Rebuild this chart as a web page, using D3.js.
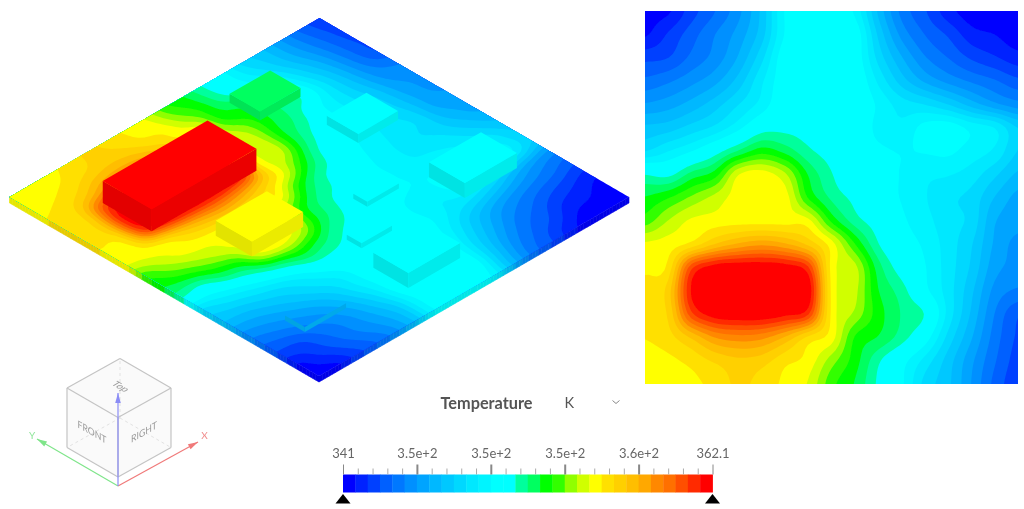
<!DOCTYPE html>
<html><head><meta charset="utf-8">
<script src="https://cdn.jsdelivr.net/npm/d3@7"></script>
<style>html,body{margin:0;padding:0;background:#fff}svg{display:block}text{font-family:Lato,sans-serif}</style>
</head><body><svg id="c" width="1024" height="509"></svg>
<script>
// ---------- data ----------
const tempRows = [
[341.5,341.6,342.8,343.8,345,346.8,349.5,350,350,349.3,346.5,344.3,343.2,342,341.3,341,341],
[341.6,342.5,343.5,344.5,345.5,347,349.5,350.2,350.2,350,347.2,345,343.8,343,342,341.7,341.2],
[342.9,343.1,344,344.8,346,347.8,350,350.4,350.4,350,347.8,346,344.6,343.8,343,342.5,342],
[344,344.4,345,345.7,346.9,348.6,350,350.4,350.4,350.2,348.6,347,345.8,345,344.4,343.9,343.3],
[345.3,345.6,346.2,347,348,349,350.2,350.4,350.4,350.3,349.3,348.4,348,347.3,346.3,345.4,344.8],
[346.8,347,347.6,348.2,349.2,350.4,350.6,350.5,350.4,350.3,349.2,348.9,349.7,349.9,349.2,348.7,347.3],
[348,348.7,349.4,350.4,351.6,352.6,352,351,350.5,350,349.6,349.4,349.5,349.6,349.1,348.6,347.3],
[350.8,350.6,351.8,352.6,355,355.4,354.5,352.2,350.9,350,349.7,349.4,348.9,348.8,348.4,347.5,346.5],
[352.3,352.9,353.8,354.6,355.4,355.5,355.4,352.9,351.4,350.6,349.8,349.4,348.8,348.2,347.8,346.6,345.7],
[353.3,354.4,355.2,355.4,355.5,355.5,355.5,355.3,352.8,351.2,350.4,349.6,349,348.3,347.8,346,345.5],
[355.2,355.4,356,357.2,358,358.4,358,357,355.4,353,350.9,349.9,349.3,348.4,347.4,345.8,345],
[355.6,356,360.5,361.8,362,362,361.8,360.8,355.5,354.6,351.9,350.4,349.5,348.4,347.2,345.5,345],
[356.1,356.8,361.5,362,362,362,362,362,355.6,354.6,352.3,351.2,349.7,348.4,346.8,345,344.4],
[356.1,356.6,360.5,361.8,362,362,361.6,360.8,355.6,354.2,352.6,351.5,350.8,348.5,346.5,344.5,343.2],
[355.8,356.2,357.3,358.6,359,358.8,357.8,356.3,355.4,352.9,352.2,351.2,349.9,347.8,346,344.2,343],
[355.4,355.6,356,356.6,357,356.8,356,355.5,354,352.6,351,349.8,348.5,347,345.4,343.9,342.8],
[355.3,355.4,355.6,356,356.6,356.2,355.6,355,353.2,352.2,350.7,349.6,347.8,346.8,345.2,343.6,342.6]
];
const scaleMin = 341, scaleMax = 362.1;
const bandColors = ["#0000ff","#0020ff","#0040ff","#0060ff","#0078ff","#0090ff","#00a4ff","#00b8ff","#00c8ff","#00d8ff",
"#00e8ff","#00f4ff","#00ffff","#00ffff","#00ff9c","#00ff60","#00ff00","#30ff00","#90ff00","#d0ff00",
"#ffff00","#ffe000","#ffd000","#ffbe00","#ffa800","#ff8800","#ff7000","#ff5000","#ff2a00","#ff0000"];
const majorTicks = [341,345.22,349.44,353.66,357.88,362.1];
const tickLabels = ["341","3.5e+2","3.5e+2","3.5e+2","3.6e+2","362.1"];
const quantityName = "Temperature", unitName = "K";
// solid bodies on the plate, in plan fractions
const boxNames = ["green","cyanA","cyanB","smallC","red","yellow","smallD","cyanE","smallF"];
const boxU0 = [.618,.714,.732,.55,.134,.225,.425,.39,.10];
const boxU1 = [.749,.842,.90,.652,.472,.39,.523,.557,.233];
const boxV0 = [.81,.588,.262,.395,.675,.442,.288,.102,.146];
const boxV1 = [.908,.69,.378,.44,.833,.559,.336,.215,.21];
const boxH = [9,9,15,5,22,15,5,15,5];
const boxTemp = [351.9,350.2,350.2,350.2,362,355.4,350.2,350.2,346.3];

// ---------- setup ----------
const svg = d3.select("#c");
const defs = svg.append("defs");
defs.append("filter").attr("id","soft").attr("x","-2%").attr("y","-2%").attr("width","104%").attr("height","104%")
  .append("feGaussianBlur").attr("stdDeviation",0.55);
const root = svg.append("g").attr("filter","url(#soft)");

// smooth display surface: Catmull-Rom resampling of the read grid, only so contour edges are not angular
const refine = 6;
const cr = (a,b,c,d,t)=>.5*(2*b+(c-a)*t+(2*a-5*b+4*c-d)*t*t+(3*b-a-3*c+d)*t*t*t);
const resample = arr => {
  const n=arr.length, out=[];
  for(let k=0;k<=(n-1)*refine;k++){
    const i=Math.min(n-2,Math.floor(k/refine)), t=k/refine-i;
    out.push(cr(arr[Math.max(0,i-1)],arr[i],arr[i+1],arr[Math.min(n-1,i+2)],t));
  }
  return out;
};
const fineH = tempRows.map(resample);
const fineCols = d3.range(fineH[0].length).map(j=>resample(fineH.map(r=>r[j])));
const nC = fineCols.length, nR = fineCols[0].length;
const flat = [];
for(let r=0;r<nR;r++) for(let c=0;c<nC;c++) flat.push(fineCols[c][r]);

const step = (scaleMax-scaleMin)/bandColors.length;
// the first band reaches below the scale so it always covers the whole surface
const thresholds = bandColors.map((_,i)=>i===0?scaleMin-5:scaleMin+i*step);
const contours = d3.contours().size([nC,nR]).thresholds(thresholds).smooth(true)(flat);
const colorOf = t => bandColors[Math.max(0,Math.min(bandColors.length-1,Math.floor((t-scaleMin)/step)))];
const fracU = d3.scaleLinear().domain([.5,nC-.5]).range([0,1]).clamp(true);
const fracV = d3.scaleLinear().domain([.5,nR-.5]).range([0,1]).clamp(true);

function bandPath(project){
  const line = d3.line();
  return c => c.coordinates.map(poly => poly.map(ring=>
      line(ring.slice(0,-1).map(p=>project(fracU(p[0]),fracV(p[1]))))+"Z"
    ).join("")).join("");
}
function drawBands(g, project){
  const path = bandPath(project);
  g.selectAll("path").data(contours).join("path")
    .attr("d",path).attr("fill-rule","evenodd")
    .attr("fill",(d,i)=>bandColors[i]);
}

// ---------- flat map ----------
const mapX = d3.scaleLinear().domain([0,1]).range([645,1018]);
const mapY = d3.scaleLinear().domain([0,1]).range([11,384]);
drawBands(root.append("g"),(u,v)=>[mapX(u),mapY(v)]);

// ---------- isometric plate ----------
const isoO = [319,376], isoU = [310,-179], isoV = [-309.5,-179];
const iso = (u,v,h=0,dy=0)=>[isoO[0]+u*isoU[0]+v*isoV[0], isoO[1]+u*isoU[1]+v*isoV[1]-h+dy];
const dim = k => col => { const c=d3.rgb(col); return d3.rgb(c.r*k,c.g*k,c.b*k).formatHex(); };
// the plate's two visible side edges take their colours from the grid's first column and first row
const thickness = 6;
const sideG = root.append("g");
const sideStrip = (vals, at) => {
  const n = vals.length-1;
  sideG.append("g").selectAll("polygon").data(d3.range(n)).join("polygon")
    .attr("points",i=>[at(i/n,0),at((i+1)/n,0),at((i+1)/n,thickness),at(i/n,thickness)].join(" "))
    .attr("fill",i=>dim(.9)(colorOf((vals[i]+vals[i+1])/2)))
    .attr("stroke",i=>dim(.9)(colorOf((vals[i]+vals[i+1])/2))).attr("stroke-width",.6);
};
sideStrip(fineCols[0], (t,d)=>iso(0,t,0,d));
sideStrip(fineH.length?resample(tempRows[0]):[], (t,d)=>iso(t,0,0,d));
drawBands(root.append("g"),(u,v)=>iso(u,v));

const order = d3.range(boxNames.length).sort((a,b)=>(boxU0[b]+boxV0[b])-(boxU0[a]+boxV0[a]));
const boxG = root.append("g");
order.forEach(i=>{
  const u0=boxU0[i],u1=boxU1[i],v0=boxV0[i],v1=boxV1[i],h=boxH[i],col=colorOf(boxTemp[i]);
  const poly=(pts,fill)=>boxG.append("polygon").attr("points",pts.join(" ")).attr("fill",fill);
  poly([iso(u0,v1,h),iso(u0,v0,h),iso(u0,v0),iso(u0,v1)],dim(.89)(col));
  poly([iso(u0,v0,h),iso(u1,v0,h),iso(u1,v0),iso(u0,v0)],dim(.92)(col));
  if(h>5) poly([iso(u0,v0,h),iso(u1,v0,h),iso(u1,v1,h),iso(u0,v1,h)],col);
});

// ---------- view cube ----------
const cube = root.append("g");
const cO=[118,477], eX=[53,-29.5], eY=[-51,-29.5], eZ=[0,-59.5];
const cp=(x,y,z)=>[cO[0]+x*eX[0]+y*eY[0]+z*eZ[0], cO[1]+x*eX[1]+y*eY[1]+z*eZ[1]];
const face=pts=>cube.append("polygon").attr("points",pts.join(" ")).attr("fill","#fafafa").attr("stroke","none");
face([cp(0,0,1),cp(1,0,1),cp(1,1,1),cp(0,1,1)]);
face([cp(0,0,0),cp(1,0,0),cp(1,0,1),cp(0,0,1)]);
face([cp(0,0,0),cp(0,1,0),cp(0,1,1),cp(0,0,1)]);
const seg=(a,b,col,w,dash)=>cube.append("line").attr("x1",a[0]).attr("y1",a[1]).attr("x2",b[0]).attr("y2",b[1])
  .attr("stroke",col).attr("stroke-width",w).attr("stroke-dasharray",dash||null);
[[cp(1,1,0),cp(1,0,0)],[cp(1,1,0),cp(0,1,0)],[cp(1,1,0),cp(1,1,1)]].forEach(s=>seg(s[0],s[1],"#e2e2e2",1,"3 3"));
[[cp(0,1,1),cp(1,1,1)],[cp(1,1,1),cp(1,0,1)],[cp(1,0,1),cp(0,0,1)],[cp(0,0,1),cp(0,1,1)],
 [cp(0,0,1),cp(0,0,0)],[cp(1,0,1),cp(1,0,0)],[cp(0,1,1),cp(0,1,0)],[cp(0,0,0),cp(1,0,0)],[cp(0,0,0),cp(0,1,0)]]
 .forEach(s=>seg(s[0],s[1],"#c4c4c4",1.2));
const cubeLabel=(t,x,y,m)=>cube.append("text").text(t).attr("text-anchor","middle").attr("dominant-baseline","middle")
  .attr("transform",`translate(${x},${y}) matrix(${m.join(",")},0,0)`).attr("font-size",10).attr("fill","#999");
cubeLabel("FRONT",92,433,[.87,.5,0,1]);
cubeLabel("RIGHT",144,433,[.87,-.5,0,1]);
cubeLabel("Top",120,387,[.87,.5,-.87,.5]);
const origin=[118,486];
const arrow=(tip,col)=>{
  seg(origin,tip,col,1.2);
  const dx=tip[0]-origin[0],dy=tip[1]-origin[1],L=Math.hypot(dx,dy),ux=dx/L,uy=dy/L,a=10,b=2.8;
  cube.append("polygon").attr("fill",col).attr("points",[tip,[tip[0]-ux*a-uy*b,tip[1]-uy*a+ux*b],[tip[0]-ux*a+uy*b,tip[1]-uy*a-ux*b]].join(" "));
};
arrow([198,442],"#f07a7a"); arrow([37,439],"#7fe58a"); arrow([118,393],"#8a8cf5");
cube.append("text").text("X").attr("x",204.5).attr("y",438.5).attr("text-anchor","middle").attr("font-size",10).attr("fill","#f08a8a");
cube.append("text").text("Y").attr("x",32).attr("y",438.5).attr("text-anchor","middle").attr("font-size",10).attr("fill","#8fe59a");

// ---------- legend ----------
const legX = d3.scaleLinear().domain([scaleMin,scaleMax]).range([343,712.5]);
const leg = root.append("g");
leg.append("text").text(quantityName).attr("x",440.5).attr("y",409).attr("font-size",16.3).attr("font-weight",700).attr("fill","#555");
leg.append("text").text(unitName).attr("x",564.5).attr("y",408).attr("font-size",14.5).attr("fill","#555");
leg.append("polyline").attr("points","612.5,400.5 616,403.5 619.5,400.5").attr("fill","none").attr("stroke","#888").attr("stroke-width",1);
leg.selectAll("rect.b").data(bandColors).join("rect").attr("class","b")
  .attr("x",(d,i)=>legX(scaleMin+i*step)).attr("y",474.5).attr("height",18)
  .attr("width",step*(legX(1)-legX(0))+.4).attr("fill",d=>d);
const minorTicks = d3.range(0,26).map(i=>scaleMin+i*(scaleMax-scaleMin)/25).filter(v=>!majorTicks.some(m=>Math.abs(m-v)<.01));
const minorAxis = d3.axisTop(legX).tickValues(minorTicks).tickSize(6).tickFormat("");
const mg = leg.append("g").attr("transform","translate(0,474.5)").call(minorAxis);
mg.select(".domain").remove(); mg.selectAll("line").attr("stroke","#aaa").attr("stroke-width",1);
const majorAxis = d3.axisTop(legX).tickValues(majorTicks).tickSize(10).tickPadding(7).tickFormat((d,i)=>tickLabels[i]);
const Mg = leg.append("g").attr("transform","translate(0,474.5)").call(majorAxis);
Mg.select(".domain").remove();
Mg.selectAll("line").attr("stroke","#888").attr("stroke-width",(d,i)=>(i===0||i===majorTicks.length-1)?1:2);
Mg.selectAll("text").attr("font-family","Lato,sans-serif").attr("font-size",13).attr("fill","#666");
[scaleMin,scaleMax].forEach(v=>{
  const x=legX(v);
  leg.append("polygon").attr("points",[[x,494],[x-7.5,503.5],[x+7.5,503.5]].join(" ")).attr("fill","#000");
});
</script></body></html>
